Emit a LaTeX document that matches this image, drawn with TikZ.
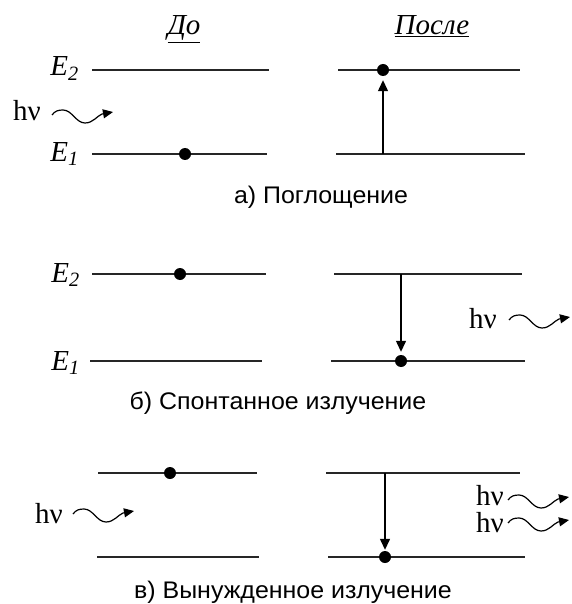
\documentclass[tikz,border=0pt]{standalone}
\usepackage{fontspec}
\setmainfont{Liberation Serif}
\newfontfamily\capfont[FakeStretch=1.04]{Liberation Sans}
\usetikzlibrary{arrows.meta}
\begin{document}
\begin{tikzpicture}[x=1pt,y=-1pt,
 level/.style={line width=1.6pt, draw=black!85},
 dotnode/.style={circle, fill=black, inner sep=0pt, minimum size=12pt},
 trans/.style={line width=1.3pt, -{Triangle[length=11pt,width=10pt]}},
 wave/.style={line width=1.2pt, -{Triangle[length=10pt,width=9pt]}},
 lbl/.style={font=\fontsize{29}{30}\selectfont\itshape, inner sep=0pt, anchor=base east},
 hv/.style={font=\fontsize{29}{30}\selectfont, inner sep=0pt, anchor=base east},
 captext/.style={font=\capfont\fontsize{24}{26}\selectfont, inner sep=0pt, anchor=base},
 head/.style={font=\fontsize{29}{30}\selectfont\itshape, inner sep=0pt, anchor=base}]
\useasboundingbox (0,0) rectangle (571,604);
\newcommand\photon[1]{\draw[wave] (#1) .. controls +(3,-4) and +(-5,0) .. ++(11,-5) .. controls +(9,0) and +(-9,0) .. ++(22,13) .. controls +(8,0) and +(-5,2) .. ++(17,-9) -- ++(11,-2);}
% headings
\node[head] (hdo) at (184,35) {\underline{До}};
\node[head] (hposle) at (432,35) {\underline{После}};
% ---------- panel a ----------
\coordinate (a2l) at (92,70); \coordinate (a2r) at (269,70);
\coordinate (a1l) at (92,154); \coordinate (a1r) at (267,154);
\coordinate (A2l) at (338,70); \coordinate (A2r) at (520,70);
\coordinate (A1l) at (336,154); \coordinate (A1r) at (525,154);
\draw[level] (a2l) -- (a2r); \draw[level] (a1l) -- (a1r);
\draw[level] (A2l) -- (A2r); \draw[level] (A1l) -- (A1r);
\node[lbl] (aE2) at (79,76) {E\textsubscript{2}};
\node[lbl] (aE1) at (79,161) {E\textsubscript{1}};
\node[dotnode] (adot) at (185,154) {};
\node[dotnode] (Adot) at (383,70) {};
\coordinate (Afrom) at (383,154);
\draw[trans, shorten >=4pt] (Afrom) -- (Adot);
\node[hv] (ahv) at (41,121) {hν};
\coordinate (aw) at (52,115);
\photon{aw}
\node[captext] (capa) at (321,203) {а) Поглощение};
% ---------- panel b ----------
\coordinate (b2l) at (92,274); \coordinate (b2r) at (266,274);
\coordinate (b1l) at (90,361); \coordinate (b1r) at (262,361);
\coordinate (B2l) at (334,274); \coordinate (B2r) at (522,274);
\coordinate (B1l) at (331,361); \coordinate (B1r) at (525,361);
\draw[level] (b2l) -- (b2r); \draw[level] (b1l) -- (b1r);
\draw[level] (B2l) -- (B2r); \draw[level] (B1l) -- (B1r);
\node[lbl] (bE2) at (80,282) {E\textsubscript{2}};
\node[lbl] (bE1) at (80,370) {E\textsubscript{1}};
\node[dotnode] (bdot) at (180,274) {};
\node[dotnode] (Bdot) at (401,361) {};
\coordinate (Bfrom) at (401,274);
\draw[trans, shorten >=3pt] (Bfrom) -- (Bdot);
\node[hv] (bhv) at (497,328) {hν};
\coordinate (bw) at (509,320);
\photon{bw}
\node[captext] (capb) at (278,409) {б) Спонтанное излучение};
% ---------- panel c ----------
\coordinate (c2l) at (98,473); \coordinate (c2r) at (257,473);
\coordinate (c1l) at (97,557); \coordinate (c1r) at (259,557);
\coordinate (C2l) at (326,473); \coordinate (C2r) at (520,473);
\coordinate (C1l) at (328,557); \coordinate (C1r) at (525,557);
\draw[level] (c2l) -- (c2r); \draw[level] (c1l) -- (c1r);
\draw[level] (C2l) -- (C2r); \draw[level] (C1l) -- (C1r);
\node[dotnode] (cdot) at (170,473) {};
\node[dotnode] (Cdot) at (385,557) {};
\coordinate (Cfrom) at (385,473);
\draw[trans, shorten >=1pt] (Cfrom) -- (Cdot);
\node[hv] (chv) at (63,523) {hν};
\coordinate (cw) at (73,514);
\photon{cw}
\node[hv] (Chv1) at (504,505) {hν};
\coordinate (Cw1) at (508,500);
\photon{Cw1}
\node[hv] (Chv2) at (504,532) {hν};
\coordinate (Cw2) at (508,523);
\photon{Cw2}
\node[captext] (capc) at (293,598) {в) Вынужденное излучение};
\end{tikzpicture}
\end{document}
